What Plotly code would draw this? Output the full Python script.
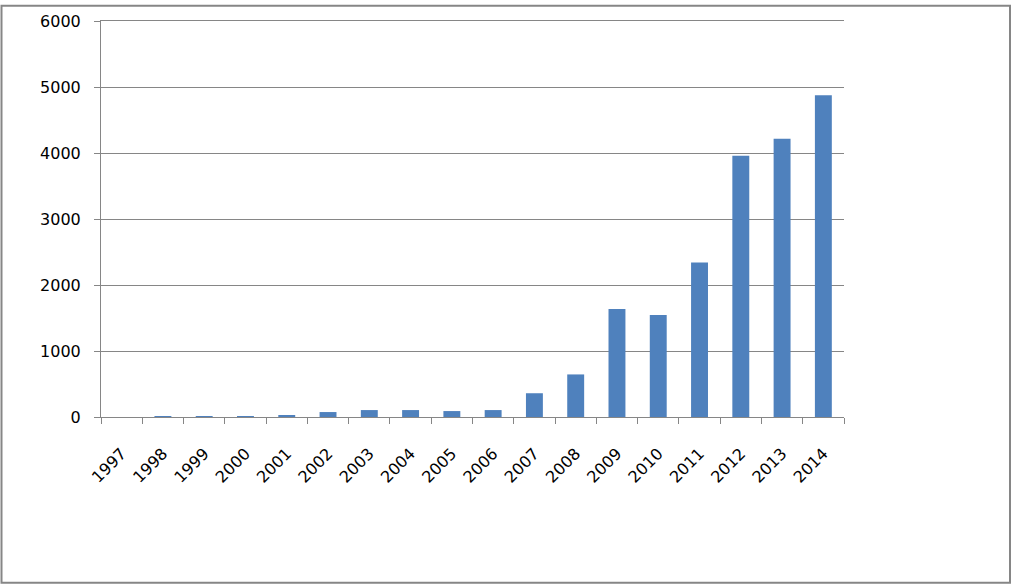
import plotly.graph_objects as go

years = [str(y) for y in range(1997, 2015)]
counts = [0, 15, 15, 15, 30, 75, 105, 105, 90, 105, 360, 645, 1635, 1545, 2340, 3960, 4215, 4875]
y_ticks = [0, 1000, 2000, 3000, 4000, 5000, 6000]

W, H = 1012, 586
L, R, T, B = 101, 844, 17, 417  # plot area in pixels

fig = go.Figure(go.Bar(x=years, y=counts, marker=dict(color="#4F81BD", line=dict(width=0))))

axis_grey = "#868686"
fig.update_layout(
    width=W, height=H,
    margin=dict(l=L, r=W - R, t=T, b=H - B, pad=0),
    paper_bgcolor="white", plot_bgcolor="white",
    bargap=0.59,
    showlegend=False,
    font=dict(family="DejaVu Sans", size=16, color="black"),
    xaxis=dict(
        type="category", tickson="boundaries", tickangle=-45,
        # mirror gives the 6000 gridline, which plotly drops at the edge
        showline=True, mirror=True, linecolor=axis_grey, linewidth=1,
        ticks="outside", ticklen=6, tickcolor=axis_grey,
        showgrid=False, ticklabelstandoff=20,
    ),
    yaxis=dict(
        range=[0, 6000], tickvals=y_ticks,
        showline=True, linecolor=axis_grey, linewidth=1,
        ticks="outside", ticklen=6, tickcolor=axis_grey,
        showgrid=True, gridcolor=axis_grey, gridwidth=1,
        zeroline=False, ticklabelstandoff=10,
    ),
)

# outer chart border
pw, ph = R - L, B - T
fig.add_shape(
    type="rect", xref="paper", yref="paper",
    x0=(1.5 - L) / pw, x1=(1010 - L) / pw,
    y0=(B - 584.5) / ph, y1=(B - 1.5) / ph,
    line=dict(color=axis_grey, width=2), layer="below",
)

# pin the chart to the top-left corner of the page
pin = ("document.body.style.margin='0';"
       "var d=document.getElementById('{plot_id}');"
       "d.style.position='absolute';d.style.left='0px';d.style.top='0px';")
fig.write_html("out.html", post_script=pin, config=dict(displayModeBar=False))
